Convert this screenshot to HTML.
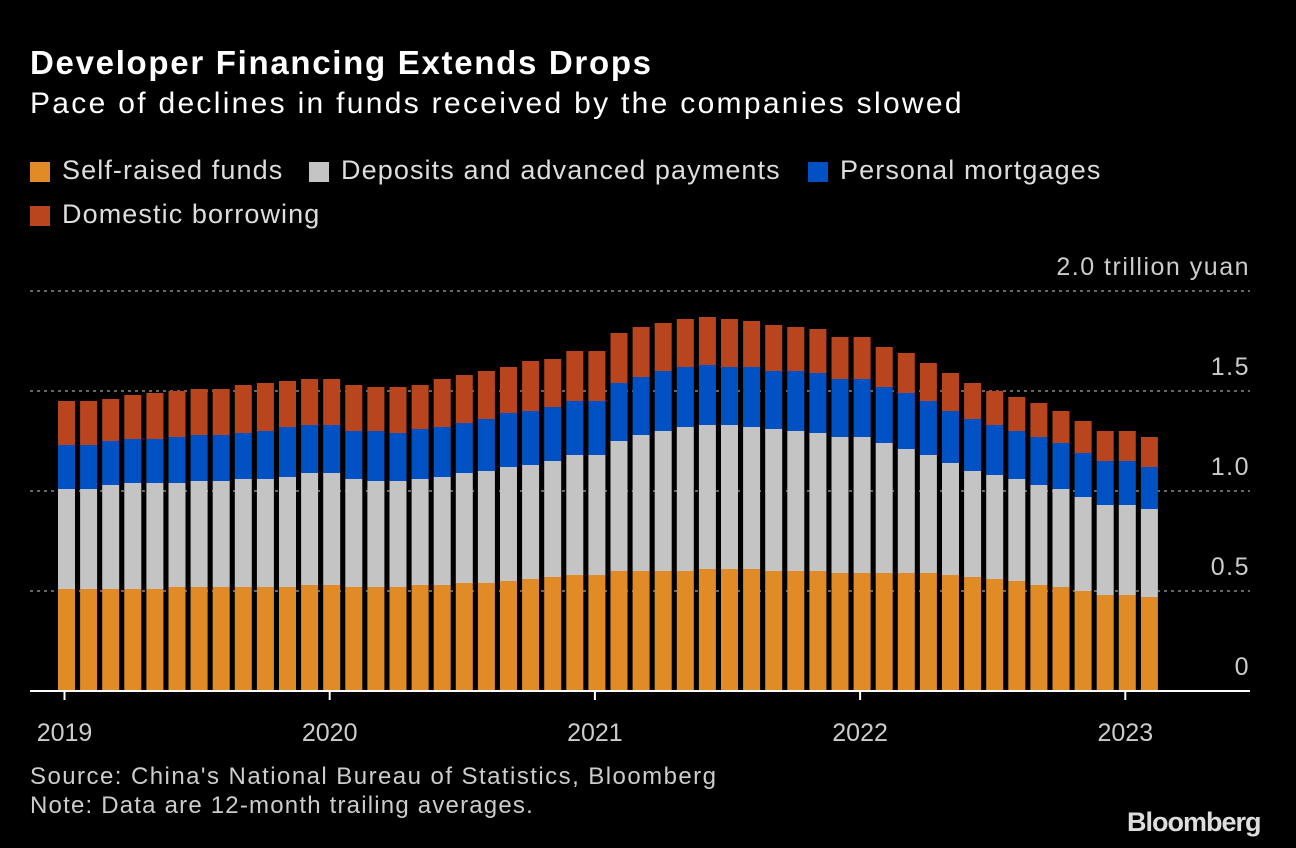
<!DOCTYPE html>
<html><head><meta charset="utf-8">
<style>
html,body{margin:0;padding:0;background:#000;}
body{width:1296px;height:848px;overflow:hidden;font-family:"Liberation Sans","DejaVu Sans",sans-serif;color:#fff;position:relative;}
.t{position:absolute;white-space:nowrap;}
.sw{position:absolute;width:20px;height:20px;}
.lg{font-size:27px;color:#ddd;letter-spacing:1.1px;}
</style></head>
<body>
<div class="t" style="left:30px;top:44px;font-size:33px;font-weight:bold;letter-spacing:1.7px;">Developer Financing Extends Drops</div>
<div class="t" style="left:30px;top:87px;font-size:30px;letter-spacing:2.3px;">Pace of declines in funds received by the companies slowed</div>

<div>
<div class="sw" style="left:30px;top:162px;background:#e08b25"></div>
<div class="t lg" style="left:62px;top:155px;">Self-raised funds</div>
<div class="sw" style="left:309px;top:162px;background:#c4c4c4"></div>
<div class="t lg" style="left:341px;top:155px;">Deposits and advanced payments</div>
<div class="sw" style="left:808px;top:162px;background:#0052c4"></div>
<div class="t lg" style="left:840px;top:155px;">Personal mortgages</div>
<div class="sw" style="left:30px;top:206px;background:#b8451e"></div>
<div class="t lg" style="left:62px;top:199px;">Domestic borrowing</div>
</div>

<svg id="chart" width="1296" height="848" style="position:absolute;left:0;top:0" xmlns="http://www.w3.org/2000/svg"></svg>

<div class="t" style="left:30px;top:763px;font-size:24px;color:#ccc;letter-spacing:1.45px">Source: China's National Bureau of Statistics, Bloomberg</div>
<div class="t" style="left:30px;top:792px;font-size:24px;color:#ccc;letter-spacing:1.2px">Note: Data are 12-month trailing averages.</div>
<div class="t" style="left:1127px;top:807px;font-size:27px;font-weight:bold;color:#ddd;letter-spacing:-1px">Bloomberg</div>

<script>
const selfRaised = [.51,.51,.51,.51,.51,.52,.52,.52,.52,.52,.52,.53,.53,.52,.52,.52,.53,.53,.54,.54,.55,.56,.57,.58,.58,.60,.60,.60,.60,.61,.61,.61,.60,.60,.60,.59,.59,.59,.59,.59,.58,.57,.56,.55,.53,.52,.50,.48,.48,.47];
const deposits = [.50,.50,.52,.53,.53,.52,.53,.53,.54,.54,.55,.56,.56,.54,.53,.53,.53,.54,.55,.56,.57,.57,.58,.60,.60,.65,.68,.70,.72,.72,.72,.71,.71,.70,.69,.68,.68,.65,.62,.59,.56,.53,.52,.51,.50,.49,.47,.45,.45,.44];
const mortgages = [.22,.22,.22,.22,.22,.23,.23,.23,.23,.24,.25,.24,.24,.24,.25,.24,.25,.25,.25,.26,.27,.27,.27,.27,.27,.29,.29,.30,.30,.30,.29,.30,.29,.30,.30,.29,.29,.28,.28,.27,.26,.26,.25,.24,.24,.23,.22,.22,.22,.21];
const borrowing = [.22,.22,.21,.22,.23,.23,.23,.23,.24,.24,.23,.23,.23,.23,.22,.23,.22,.24,.24,.24,.23,.25,.24,.25,.25,.25,.25,.24,.24,.24,.24,.23,.23,.22,.22,.21,.21,.20,.20,.19,.19,.18,.17,.17,.17,.16,.16,.15,.15,.15];
const yTicks = [0, 0.5, 1.0, 1.5, 2.0];
const yTickLabels = ["0", "0.5", "1.0", "1.5", "2.0 trillion yuan"];
const yearLabels = ["2019", "2020", "2021", "2022", "2023"];
const yearIndex = [0, 12, 24, 36, 48];

const NS = "http://www.w3.org/2000/svg";
const svg = document.getElementById("chart");
const X0 = 66.5, STEP = 22.1, BW = 17;
const x = i => X0 + STEP * i;
const y = v => 691 - v * 200;
function mk(tag, attrs) { const e = document.createElementNS(NS, tag); for (const k in attrs) e.setAttribute(k, attrs[k]); svg.appendChild(e); return e; }

yTicks.forEach((v, k) => {
  if (v > 0) {
    const g = mk("line", {x1: 30, x2: 1250, y1: y(v), y2: y(v), stroke: "#888", "stroke-width": 1.5, "stroke-dasharray": "3 4"});
    
    
  }
  const t = mk("text", {x: 1250, y: y(v) - 16, "text-anchor": "end", fill: "#ccc", "font-size": 25, "letter-spacing": 1.5, "font-family": "Liberation Sans, sans-serif"});
  t.textContent = yTickLabels[k];
  
  
});

const series = [[selfRaised, "#e08b25", "self-raised"], [deposits, "#c4c4c4", "deposits"], [mortgages, "#0052c4", "mortgages"], [borrowing, "#b8451e", "borrowing"]];
for (let i = 0; i < selfRaised.length; i++) {
  let base = 0;
  series.forEach(s => {
    const v = s[0][i];
    const r = mk("rect", {x: x(i) - BW / 2, y: y(base + v), width: BW, height: y(base) - y(base + v), fill: s[1]});
    
    
    base += v;
  });
}

const ax = mk("line", {x1: 30, x2: 1250, y1: 691, y2: 691, stroke: "#fff", "stroke-width": 2});


yearIndex.forEach((idx, k) => {
  const tk = mk("line", {x1: x(idx) - 2, x2: x(idx) - 2, y1: 691, y2: 700, stroke: "#fff", "stroke-width": 2});
  
  
  const t = mk("text", {x: x(idx) - 2, y: 741, "text-anchor": "middle", fill: "#ccc", "font-size": 25, "font-family": "Liberation Sans, sans-serif"});
  t.textContent = yearLabels[k];
  
  
});
</script>
</body></html>
